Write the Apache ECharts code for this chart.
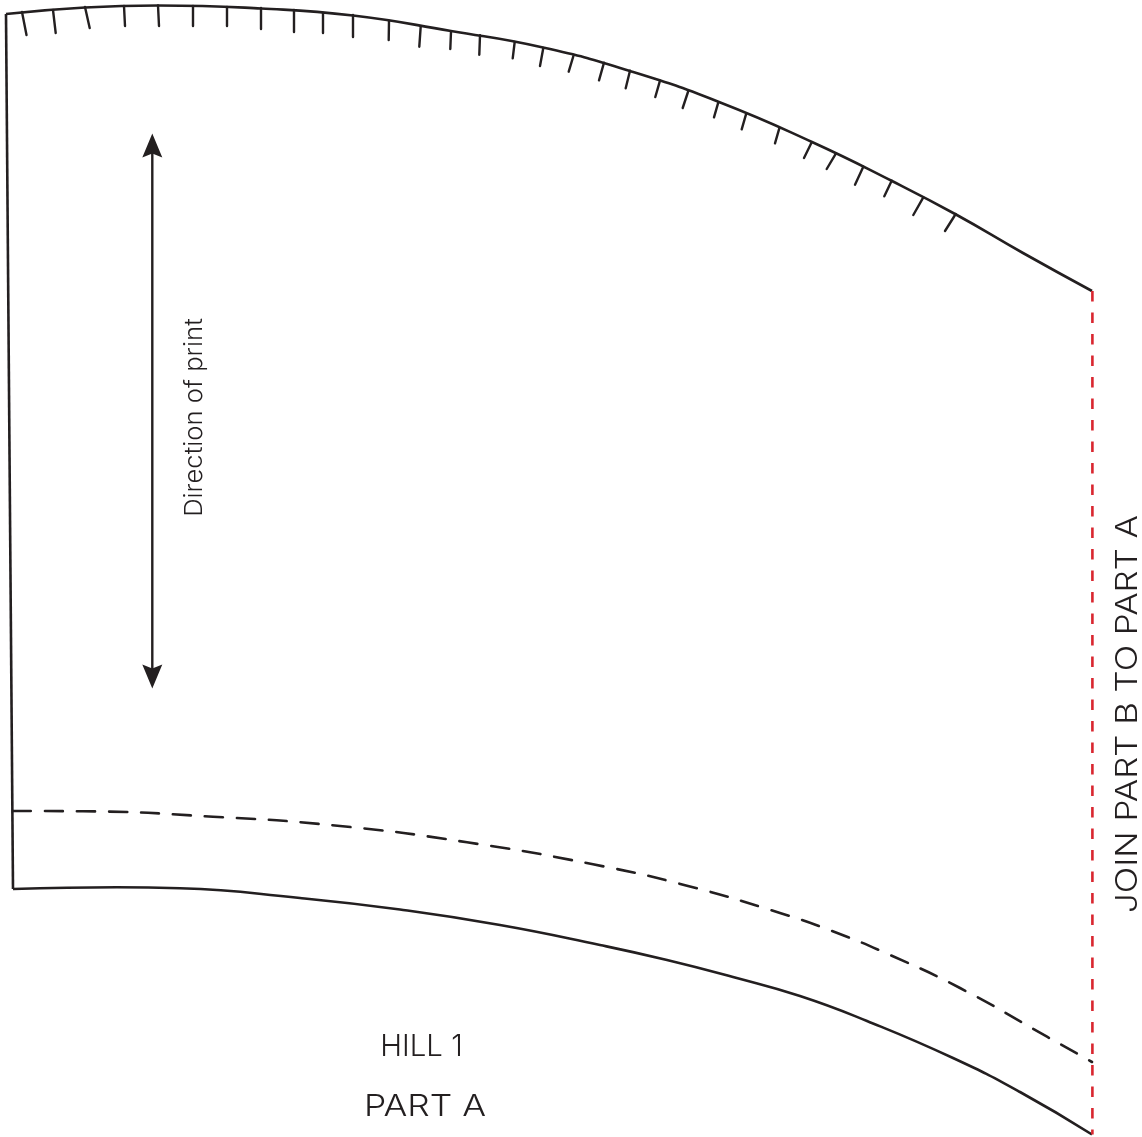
<!DOCTYPE html>
<html>
<head>
<meta charset="utf-8">
<style>html,body{margin:0;padding:0;background:#fff}#c{width:1142px;height:1137px}</style>
<script src="https://cdn.jsdelivr.net/npm/echarts@6/dist/echarts.min.js"></script>
</head>
<body>
<div id="c"></div>
<script>
var topEdge = [[6,14],[85,7.5],[158,5.5],[261,8.5],[353,15.5],[451,31],[543,47.5],[630,71],[719,102],[812,142],[892,181],[956,214.5],[1023,253],[1092,291]];
var leftEdge = [[6,14],[13,889]];
var bottomEdge = [[13,889],[67,887.7],[117,887.3],[180,888.3],[300,898],[400,909.5],[500,925],[600,945],[667,960],[733,977],[800,996],[867,1021],[953,1058],[1020,1092],[1092,1134.5]];
var foldLine = [[13,811],[83,811.3],[213,816.7],[340,826],[467,842.3],[593,864.3],[687,885.7],[780,913],[832,931],[890,955],[960,988],[1047,1036.7],[1092,1062]];
var joinLine = [[1092.4,291],[1092.4,1134.5]];
var tickRoots = [[22,12],[53,10],[85,7],[124,6],[158,5.5],[193,6],[227,7],[261,8],[294,10],[323,13],[353,15],[389,21],[420.7,26.7],[451,31.7],[480,35.3],[514.7,42],[543.3,48],[573.7,55],[604,62.7],[630,70.7],[660,80.7],[688.3,91],[718.3,102.3],[746,114.3],[779.3,128.3],[811.7,142.3],[836,153.3],[863.3,166.7],[891.7,180.7],[923.3,197.3],[955.7,214]];
var tickEnds = [[26.5,35],[55.7,33],[89.7,28],[125,26],[159,26],[193,26],[227,26],[261,29],[294,32],[323,33],[353,37],[388.7,40],[419.3,46.7],[450.3,49],[479.3,54.7],[512.7,58.3],[540,66],[568.7,71.7],[599,80.3],[625.7,88.3],[655.3,97],[682.7,108],[714,117.3],[741.7,129.3],[775,143.3],[804,158],[826.7,169],[855,184.7],[884.3,196.3],[913.3,215],[945,231]];
var arrowShaft = [[152.3,150],[152.3,672]];
var arrowHeadUp = [[152.3,145.5]];
var arrowHeadDown = [[152.3,676.5]];
var labelTexts = ['HILL 1','PART A','Direction of print','JOIN PART B TO PART A'];
var labelAnchors = [[421.5,1046.5],[425,1106.5],[195,417.5],[1127.5,714]];
var labelAngles = [0,0,90,90];
var labelSizes = [30,30,24,30];
var labelStretch = [0.98,1.18,1.07,1.16];

var INK = '#231f20', RED = '#d9262f';
function line(data, extra, smooth) {
  return {
    type:'line', data:data, symbol:'none', silent:true, clip:false,
    smooth: smooth ? 0.5 : false,
    lineStyle:Object.assign({color:INK,width:2.6,cap:'butt',join:'miter',opacity:1}, extra||{})
  };
}
var series = [
  line(topEdge,null,true),
  line(leftEdge),
  line(bottomEdge,null,true),
  line(foldLine,{type:[18,14],width:2.6,cap:'round'},true),
  line(arrowShaft,{width:2.4}),
  line(joinLine,{color:RED,type:[10.5,11],width:2.6})
];
tickRoots.forEach(function(r,i){
  series.push(line([r,tickEnds[i]],{width:2.4,cap:'round'}));
});
var arrowPath = 'path://M10,0 L20,24 L10,20 L0,24 Z';
series.push({type:'scatter',data:arrowHeadUp,symbol:arrowPath,symbolSize:[20,24],itemStyle:{color:INK,opacity:1},silent:true,clip:false});
series.push({type:'scatter',data:arrowHeadDown,symbol:arrowPath,symbolRotate:180,symbolSize:[20,24],itemStyle:{color:INK,opacity:1},silent:true,clip:false});
var chart = echarts.init(document.getElementById('c'),null,{width:1142,height:1137});
var option = {
  animation:false,
  backgroundColor:'#fff',
  grid:{left:0,right:0,top:0,bottom:0},
  xAxis:{type:'value',min:0,max:1142,show:false},
  yAxis:{type:'value',min:0,max:1137,inverse:true,show:false},
  series:series
};
chart.setOption(option);
chart.setOption({
  graphic:labelTexts.map(function(t,i){
    var p = chart.convertToPixel({gridIndex:0},labelAnchors[i]);
    return {type:'text',x:p[0],y:p[1],rotation:labelAngles[i]*Math.PI/180,scaleX:labelStretch[i],silent:true,
      style:{text:t,fill:INK,font:'300 '+labelSizes[i]+'px Inter',textAlign:'center',textVerticalAlign:'middle'}};
  })
});
</script>
</body>
</html>
